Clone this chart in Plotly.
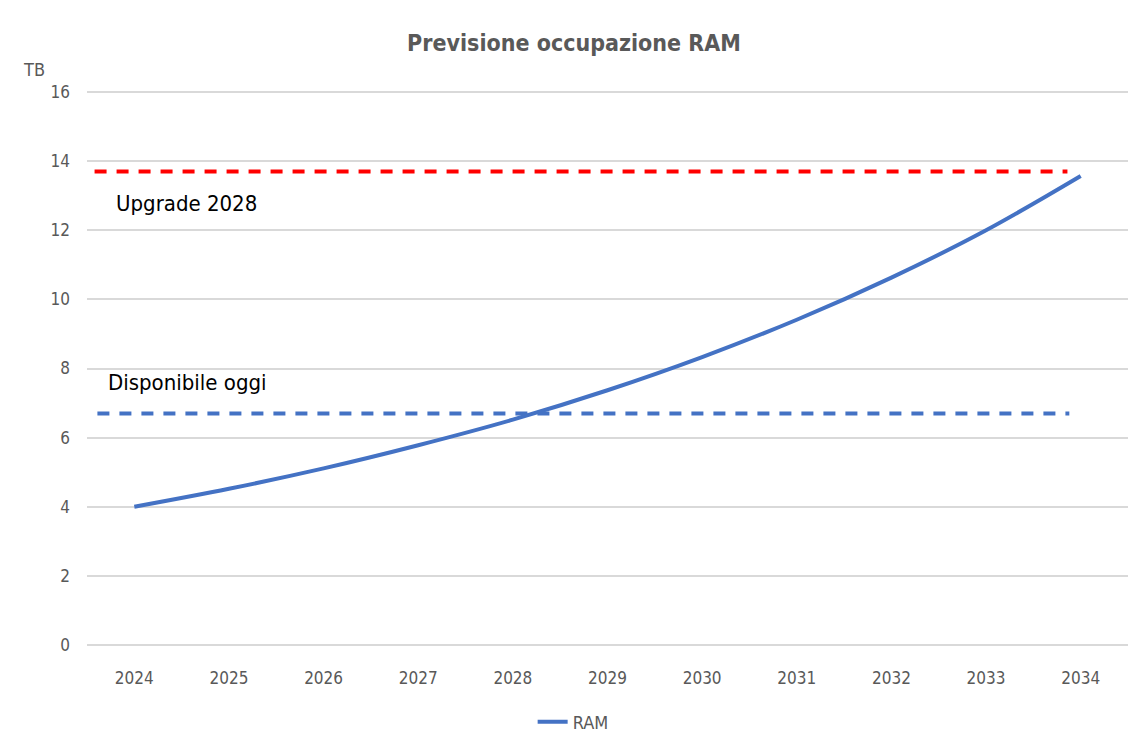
import plotly.graph_objects as go

# Forecast of RAM usage (TB) per year
years = [2024, 2025, 2026, 2027, 2028, 2029, 2030, 2031, 2032, 2033, 2034]
ram_tb = [4.0, 4.52, 5.11, 5.78, 6.52, 7.37, 8.33, 9.41, 10.63, 12.0, 13.57]

# Reference levels
upgrade_level = 13.7
available_level = 6.7
y_ticks = [0, 2, 4, 6, 8, 10, 12, 14, 16]

BLUE = '#4472C4'
GRAY = '#595959'
TEXT_FONT = 'DejaVu Sans Condensed, Liberation Sans Narrow, Open Sans, sans-serif'

fig = go.Figure()

fig.add_trace(go.Scatter(
    x=years,
    y=ram_tb,
    mode='lines',
    name='RAM',
    line=dict(color=BLUE, width=4, shape='spline'),
))

# Dashed reference lines
fig.add_shape(type='line', xref='x', yref='y',
              x0=2023.58, x1=2033.86, y0=upgrade_level, y1=upgrade_level,
              line=dict(color='#FF0000', width=4, dash='12px,10px'))
fig.add_shape(type='line', xref='x', yref='y',
              x0=2023.61, x1=2033.88, y0=available_level, y1=available_level,
              line=dict(color=BLUE, width=4, dash='12px,10px'))

fig.add_annotation(x=2023.78, y=12.78, xref='x', yref='y', text='Upgrade 2028',
                   showarrow=False, xanchor='left',
                   font=dict(family=TEXT_FONT, size=22, color='black'))
fig.add_annotation(x=2023.7, y=7.6, xref='x', yref='y', text='Disponibile oggi',
                   showarrow=False, xanchor='left',
                   font=dict(family=TEXT_FONT, size=22, color='black'))

fig.add_annotation(x=-0.063, y=1.038, xref='paper', yref='paper', text='TB',
                   showarrow=False, xanchor='left', yanchor='middle',
                   font=dict(family=TEXT_FONT, size=18, color=GRAY))

fig.update_layout(
    width=1148,
    height=739,
    margin=dict(l=79, r=28, t=83, b=101, autoexpand=False),
    paper_bgcolor='white',
    plot_bgcolor='white',
    title=dict(
        text='<b>Previsione occupazione RAM</b>',
        x=0.493,
        xanchor='center',
        y=0.953,
        yanchor='middle',
        font=dict(family=TEXT_FONT, size=23, color=GRAY),
    ),
    font=dict(family=TEXT_FONT, color=GRAY, size=17),
    showlegend=True,
    legend=dict(
        orientation='h',
        x=0.467,
        xanchor='center',
        y=-0.137,
        yanchor='middle',
        font=dict(size=18, color=GRAY),
    ),
)

fig.update_xaxes(
    range=[2023.5, 2034.5],
    tickvals=years,
    ticktext=[str(y) for y in years],
    showgrid=False,
    zeroline=False,
    showline=False,
    ticks='',
    ticklabelstandoff=20,
)
fig.update_yaxes(
    range=[-0.03, 16.03],
    tickvals=y_ticks,
    showgrid=True,
    gridcolor='#D9D9D9',
    gridwidth=1.5,
    zeroline=False,
    showline=False,
    ticks='',
    ticklabelstandoff=16,
)

fig.write_html("out.html")
